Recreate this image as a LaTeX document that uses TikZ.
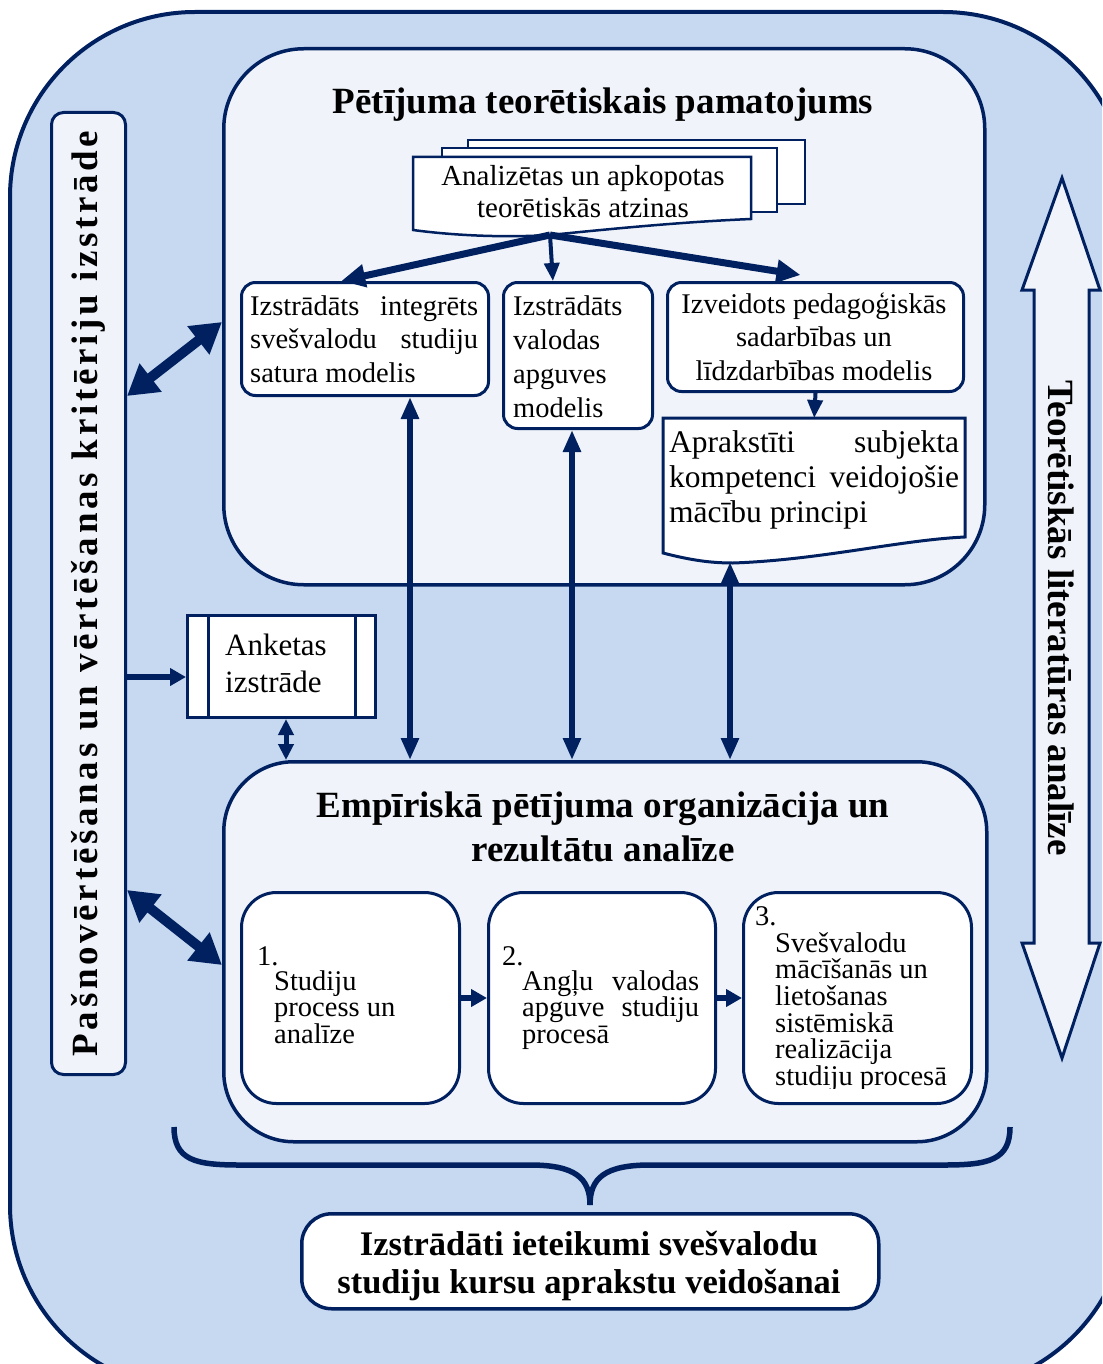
\documentclass[tikz,border=0pt]{standalone}
\usepackage{fontspec}
\setmainfont{Liberation Serif}
\usetikzlibrary{arrows.meta,calc}
\definecolor{navy}{RGB}{0,32,96}
\definecolor{skyfill}{RGB}{198,217,241}
\definecolor{panelfill}{RGB}{240,244,250}
\newcommand{\fsz}[2]{\fontsize{#1}{#2}\selectfont}

\begin{document}
\begin{tikzpicture}[x=1pt,y=-1pt,
  outline/.style={draw=navy,line width=3pt},
  panel/.style={outline,line width=3.5pt,fill=panelfill,anchor=north west,inner sep=0pt},
  card/.style={outline,fill=white,anchor=north west,inner sep=0pt,rounded corners=14pt},
  para/.style={inner sep=0pt,anchor=base west},
  cpara/.style={inner sep=0pt,anchor=base},
  thinarrow/.style={draw=navy,line width=4pt,-{Triangle[length=18pt,width=15pt]}},
  forkarrow/.style={draw=navy,line width=7pt,-{Triangle[length=24pt,width=22pt]}},
  link/.style={draw=navy,line width=6pt,-{Triangle[length=16pt,width=17pt]}},
  dlink/.style={draw=navy,line width=6pt,{Triangle[length=22pt,width=17pt]}-{Triangle[length=22pt,width=17pt]}},
  smalldlink/.style={draw=navy,line width=5pt,{Triangle[length=16pt,width=15pt]}-{Triangle[length=16pt,width=15pt]}},
  bigdlink/.style={draw=navy,line width=10pt,{Triangle[length=30pt,width=34pt]}-{Triangle[length=30pt,width=34pt]}},
]
\useasboundingbox (0,0) rectangle (1102,1364);
\clip (0,0) rectangle (1102,1364);
\fill[white] (0,0) rectangle (1102,1364);

% outer frame
\draw[navy,line width=4pt,fill=skyfill,rounded corners=185pt] (10,12) rectangle (1128,1390);

% self-assessment bar on the left
\node[panel,line width=3pt,rounded corners=12pt,minimum width=74pt,minimum height=962pt] (bar) at (50,111) {};
\node[font=\bfseries\fsz{37}{40}\addfontfeatures{LetterSpace=10},rotate=90,inner sep=0pt] (bartext) at (bar.center)
  {Pašnovērtēšanas un vērtēšanas kritēriju izstrāde};

% literature analysis double block arrow on the right
\draw[outline,fill=panelfill,line join=miter] (1062,178) -- (1100,290) -- (1089,290) -- (1089,943) -- (1100,943)
  -- (1062,1058) -- (1022,943) -- (1034,943) -- (1034,290) -- (1022,290) -- cycle;
\node[font=\bfseries\fsz{37}{40},rotate=-90,inner sep=0pt] (littext) at (1061,618) {Teorētiskās literatūras analīze};

% theoretical part
\node[panel,rounded corners=80pt,minimum width=761pt,minimum height=536pt] (theory) at (222,47) {};
\node[cpara,font=\bfseries\fsz{37}{44}] (ttitle) at (603,114) {Pētījuma teorētiskais pamatojums};

% stack of documents
\draw[outline,line width=2.5pt,fill=white] (468,140) rectangle (805,204);
\draw[outline,line width=2.5pt,fill=white] (442,148) rectangle (777,212);
\draw[outline,line width=2.5pt,fill=white] (413,157) -- (751,157) -- (751,219)
  .. controls (680,222) and (610,229) .. (550,235) .. controls (500,238) and (450,235) .. (413,230) -- cycle;
\begin{scope}
  \clip (415,159) rectangle (749,218.5);
  \node[cpara,font=\fsz{29}{32}] (stack) at (583,186)
    {\parbox[t]{330pt}{\centering Analizētas un apkopotas\\teorētiskās atzinas}};
\end{scope}
\coordinate (fork) at (550,235);

% models
\node[card,minimum width=247pt,minimum height=113pt] (A) at (240,281) {};
\node[para,font=\fsz{28.5}{33.5}] (Atext) at (250,315)
  {\parbox[t]{228pt}{Izstrādāts integrēts\linebreak svešvalodu studiju\linebreak satura modelis}};

\node[card,minimum width=149pt,minimum height=146pt] (B) at (502,281) {};
\node[para,font=\fsz{28.5}{34}] (Btext) at (513,315)
  {\parbox[t]{135pt}{\raggedright Izstrādāts\\valodas\\apguves\\modelis}};

\node[card,minimum width=296pt,minimum height=109pt] (C) at (666,281) {};
\node[cpara,font=\fsz{28.5}{33.5}] (Ctext) at (814,313)
  {\parbox[t]{290pt}{\centering Izveidots pedagoģiskās\\sadarbības un\\līdzdarbības modelis}};

% principles (document shape)
\node[anchor=north west,inner sep=0pt,minimum width=302pt,minimum height=119pt] (D) at (663,418) {};
\draw[outline,fill=white] (663,418) -- (965,418) -- (965,537)
  .. controls (900,540) and (820,560) .. (733,563) .. controls (710,563) and (690,560) .. (663,553) -- cycle;
\node[para,font=\fsz{31.5}{35}] (Dtext) at (669,452)
  {\parbox[t]{290pt}{Aprakstīti subjekta\linebreak kompetenci veidojošie\linebreak mācību principi}};
\coordinate (Dfoot) at (730,562);

% questionnaire (predefined process)
\node[outline,fill=white,anchor=north west,inner sep=0pt,minimum width=188pt,minimum height=102pt] (survey) at (186,614) {};
\draw[outline] ($(survey.north west)+(22,0)$) -- ($(survey.south west)+(22,0)$);
\draw[outline] ($(survey.north east)+(-22,0)$) -- ($(survey.south east)+(-22,0)$);
\node[para,font=\fsz{31}{37}] (surveytext) at (225,655) {\parbox[t]{120pt}{\raggedright Anketas\\izstrāde}};

% empirical part
\node[panel,rounded corners=70pt,minimum width=763pt,minimum height=380pt] (emp) at (222,760) {};
\node[cpara,font=\bfseries\fsz{37}{44}] (etitle) at (603,817)
  {\parbox[t]{700pt}{\centering Empīriskā pētījuma organizācija un\\rezultātu analīze}};

\node[card,rounded corners=35pt,minimum width=218pt,minimum height=211pt] (S1) at (240,891) {};
\node[card,rounded corners=35pt,minimum width=227pt,minimum height=211pt] (S2) at (487,891) {};
\node[card,rounded corners=35pt,minimum width=228pt,minimum height=211pt] (S3) at (742,891) {};

\node[para,font=\fsz{28.5}{26.7}] (S1num) at (257,965) {1.};
\node[para,font=\fsz{28.5}{26.7}] (S1text) at (274,990) {\parbox[t]{175pt}{\raggedright Studiju\\process un\\analīze}};
\node[para,font=\fsz{28.5}{26.7}] (S2num) at (502,965) {2.};
\node[para,font=\fsz{28.5}{26.7}] (S2text) at (522,990)
  {\parbox[t]{177pt}{Angļu valodas\linebreak apguve studiju\linebreak procesā}};
\node[para,font=\fsz{28.5}{26.7}] (S3num) at (755,925) {3.};
\begin{scope}
  \clip (745,894) rectangle (968,1088);
  \node[para,font=\fsz{28.5}{26.7}] (S3text) at (775,952)
    {\parbox[t]{185pt}{\raggedright Svešvalodu\\mācīšanās un\\lietošanas\\sistēmiskā\\realizācija\\studiju procesā}};
\end{scope}

% brace and conclusion
\draw[navy,line width=5.5pt] (174,1127) .. controls (174,1160) and (195,1165) .. (240,1165) -- (530,1165)
  .. controls (575,1165) and (590,1178) .. (590,1205);
\draw[navy,line width=5.5pt] (1010,1127) .. controls (1010,1160) and (989,1165) .. (944,1165) -- (650,1165)
  .. controls (605,1165) and (590,1178) .. (590,1205);
\node[card,rounded corners=30pt,line width=3.5pt,minimum width=577pt,minimum height=95pt] (result) at (300,1212) {};
\node[cpara,font=\bfseries\fsz{34.5}{38}] (resulttext) at (589,1255)
  {\parbox[t]{570pt}{\centering Izstrādāti ieteikumi svešvalodu\\studiju kursu aprakstu veidošanai}};

% connectors
\draw[forkarrow] (fork) -- ($(A.north west)!0.405!(A.north east)$);
\draw[thinarrow] (fork) -- ($(B.north west)!0.335!(B.north east)$);
\draw[forkarrow] (fork) -- ($(C.north west)!0.45!(C.north east)+(0,-6)$);
\draw[thinarrow] (C.south) -- (D.north);

\coordinate (colA) at (410,0);
\coordinate (colB) at (572,0);
\coordinate (colK) at (286,0);
\draw[dlink] (A.south -| colA) -- (emp.north -| colA);
\draw[dlink] (B.south -| colB) -- (emp.north -| colB);
\draw[dlink] (Dfoot) -- (emp.north -| Dfoot);
\draw[smalldlink] (survey.south -| colK) -- (emp.north -| colK);

\coordinate (surveyin) at ($(survey.south west)!0.4!(survey.north west)$);
\draw[link] (bar.east |- surveyin) -- (surveyin);

\coordinate (r1) at (0,396);
\coordinate (r2) at (0,322);
\coordinate (r3) at (0,890);
\coordinate (r4) at (0,965);
\draw[bigdlink] (bar.east |- r1) -- (theory.west |- r2);
\draw[bigdlink] (bar.east |- r3) -- (emp.west |- r4);

\draw[link] (S1.east) -- (S2.west);
\draw[link] (S2.east) -- (S3.west);
\end{tikzpicture}
\end{document}
